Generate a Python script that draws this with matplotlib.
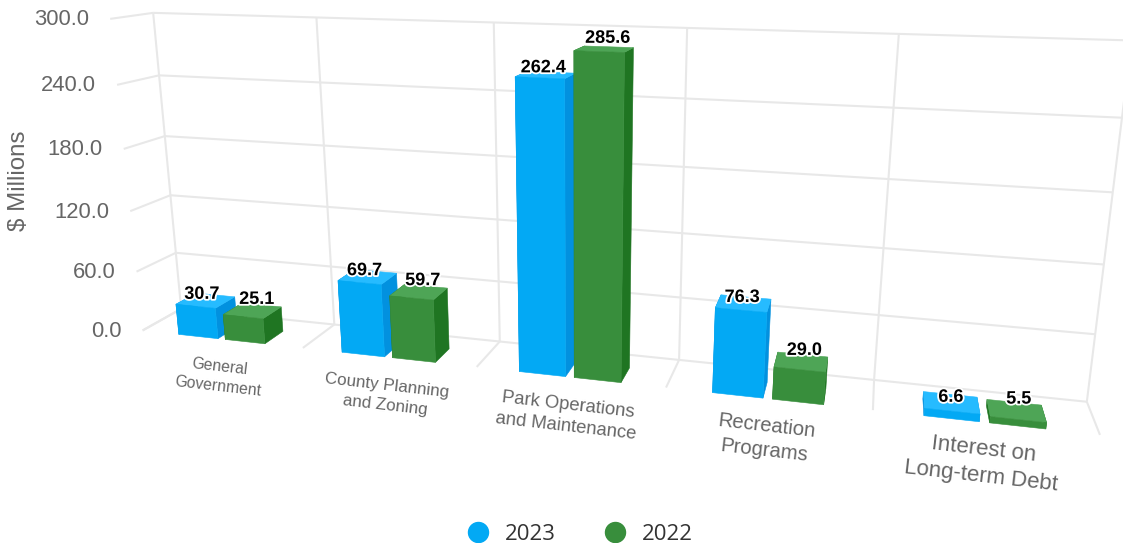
import numpy as np
import matplotlib
matplotlib.use("Agg")
import matplotlib.pyplot as plt
from matplotlib.lines import Line2D
from matplotlib.patches import Polygon
import matplotlib.patheffects as pe

categories = ["General\nGovernment", "County Planning\nand Zoning", "Park Operations\nand Maintenance",
              "Recreation\nPrograms", "Interest on\nLong-term Debt"]
values_2023 = [30.7, 69.7, 262.4, 76.3, 6.6]
values_2022 = [25.1, 59.7, 285.6, 29.0, 5.5]
value_ticks = [0, 60, 120, 180, 240, 300]

BLUE = dict(front="#03A9F4", side="#0291DF", top="#26BBFF")
GREEN = dict(front="#388E3C", side="#1F7522", top="#4EA556")
GRID = "#E8E8E8"
TEXT = "#666666"

# Camera calibration: (category position, value, depth) against canvas pixels.
calibration = [
    (0, 300, 0, 153, 12), (0, 240, 0, 159, 75), (0, 180, 0, 165, 137), (0, 120, 0, 170, 195),
    (0, 60, 0, 176, 253), (0, 0, 0, 182, 308),
    (5, 300, 0, 1131, 41), (5, 240, 0, 1122, 117), (5, 180, 0, 1112, 193), (5, 120, 0, 1105, 264),
    (5, 60, 0, 1095, 335), (5, 0, 0, 1088, 402),
    (1, 300, 0, 317, 17), (2, 300, 0, 494, 23), (3, 300, 0, 687, 28), (4, 300, 0, 899, 34),
    (1, 0, 0, 334, 324), (2, 0, 0, 499, 342), (3, 0, 0, 679, 360), (4, 0, 0, 873, 380),
    (0, 300, 1, 110, 18), (0, 240, 1, 117, 85), (0, 180, 1, 124, 150), (0, 120, 1, 130, 211),
    (0, 60, 1, 137, 273), (0, 0, 1, 142, 331),
    (1, 0, 1, 303, 347), (2, 0, 1, 477, 367), (3, 0, 1, 666, 387), (4, 0, 1, 873, 410), (5, 0, 1, 1100, 434),
]


def fit_camera(rows):
    a, b = [], []
    for u, v, w, x, y in rows:
        a.append([u, v, w, 1, 0, 0, 0, 0, -x * u, -x * v, -x * w]); b.append(x)
        a.append([0, 0, 0, 0, u, v, w, 1, -y * u, -y * v, -y * w]); b.append(y)
    p = np.linalg.lstsq(np.array(a, float), np.array(b, float), rcond=None)[0]
    return np.append(p, 1.0).reshape(3, 4)


CAMERA = fit_camera(calibration)


def project(u, v, w):
    h = CAMERA @ np.array([u, v, w, 1.0])
    return h[0] / h[2], h[1] / h[2]


fig = plt.figure(figsize=(11.23, 5.43), dpi=100)
ax = fig.add_axes([0, 0, 1, 1])
ax.set_xlim(0, 1123)
ax.set_ylim(543, 0)
ax.axis("off")


def segment(p, q):
    ax.add_line(Line2D([p[0], q[0]], [p[1], q[1]], color=GRID, lw=1.5, solid_capstyle="butt", zorder=1))


# Back wall, floor ticks and value ticks
for v in value_ticks:
    segment(project(0, v, 1), project(0, v, 0))
    segment(project(0, v, 0), project(5, v, 0))
    x, y = project(0, v, 1)
    ax.text(x - 21, y + 1, f"{v:.1f}", ha="right", va="center", color=TEXT, fontsize=15.8,
            family="Liberation Sans", zorder=5)
for i in range(6):
    segment(project(i, 0, 0), project(i, 300, 0))
    segment(project(i, 0, 0), project(i, 0, 1))

ax.text(19.5, 181, "$ Millions", rotation=90, ha="center", va="center", color=TEXT, fontsize=17.4,
        family="Liberation Sans")

BAR_BACK, BAR_FRONT = 0.47, 1.0
SPANS = {"2023": (0.233, 0.48), "2022": (0.526, 0.77)}
LABEL_DEPTH = {"2023": 0.82, "2022": 0.70}
LABEL_NUDGE = {"2023": (-0.5, -8), "2022": (3, -10.5)}


def draw_bar(u0, u1, value, colors):
    a, b = BAR_BACK, BAR_FRONT
    faces = [
        ([(u0, 0, a), (u0, value, a), (u0, value, b), (u0, 0, b)], colors["side"]),
        ([(u1, 0, a), (u1, value, a), (u1, value, b), (u1, 0, b)], colors["side"]),
        ([(u0, value, a), (u1, value, a), (u1, value, b), (u0, value, b)], colors["top"]),
        ([(u0, 0, b), (u1, 0, b), (u1, value, b), (u0, value, b)], colors["front"]),
    ]
    for pts, col in faces:
        ax.add_patch(Polygon([project(*p) for p in pts], closed=True, fc=col, ec=col, lw=0.4, zorder=3))


labels = []
for i in range(len(categories)):
    for name, vals, cols in (("2023", values_2023, BLUE), ("2022", values_2022, GREEN)):
        s0, s1 = SPANS[name]
        draw_bar(i + s0, i + s1, vals[i], cols)
        labels.append((i + (s0 + s1) / 2, vals[i], name))

for u, v, name in labels:
    x, y = project(u, v, LABEL_DEPTH[name])
    dx, dy = LABEL_NUDGE[name]
    ax.text(x + dx, y + dy, f"{v:.1f}", ha="center", va="center", color="black", fontsize=13.0, fontweight="bold",
            family="Liberation Sans", zorder=6,
            path_effects=[pe.withStroke(linewidth=2.6, foreground="white")])

# Category labels grow with the perspective scale of their slot
for i, name in enumerate(categories):
    x0, y0 = project(i, 0, 1)
    x1, y1 = project(i + 1, 0, 1)
    width = x1 - x0
    size_px = 0.098 * width
    ax.text((x0 + x1) / 2 - 4, (y0 + y1) / 2 + 30 + 0.045 * width, name, rotation=-6.5, rotation_mode="anchor",
            ha="center", va="center", multialignment="center", color=TEXT, fontsize=size_px * 0.72,
            linespacing=1.38, family="Liberation Sans", zorder=5)

handles = [Line2D([], [], marker="o", ls="none", ms=14.4, mfc=BLUE["front"], mec=BLUE["front"], label="2023"),
           Line2D([], [], marker="o", ls="none", ms=14.4, mfc=GREEN["front"], mec=GREEN["front"], label="2022")]
leg = ax.legend(handles=handles, ncol=2, frameon=False, loc="center", bbox_to_anchor=(580 / 1123, 1 - 534 / 543),
                prop={"family": "Open Sans", "size": 15.9}, labelcolor="#333333", handlelength=1.0,
                handletextpad=0.72, columnspacing=2.15, borderpad=0)

fig.savefig("out.png", dpi=100)
